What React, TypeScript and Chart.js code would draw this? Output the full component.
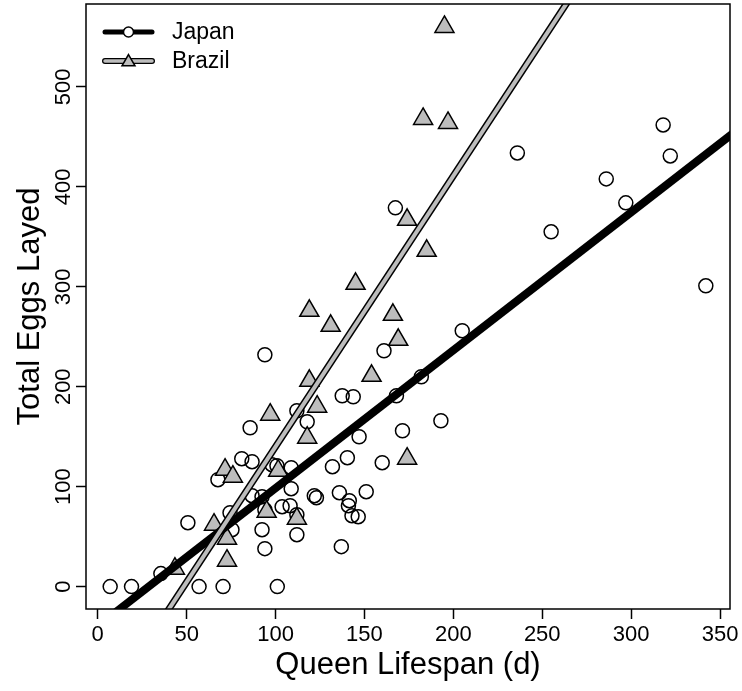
import { useEffect, useRef } from "react";
import { Chart, registerables } from "chart.js";

Chart.register(...registerables);

// ---- Data ----
const seriesNames = ["Japan", "Brazil"];

const japanLifespan = [
  7, 19, 57, 70.5, 101, 35.5, 50.7, 94, 85.7, 81, 86.8, 67.6, 98, 100.8, 108.8,
  86.8, 92.4, 108.8, 121.8, 123, 74.4, 94, 103.7, 108.2, 112, 75.5, 92.4, 112, 94,
  112, 117.8, 137.5, 143.7, 168, 171.4, 147, 140.4, 132, 160, 135.9, 151, 141.5,
  141, 143, 146.5, 137, 161, 205, 182, 193, 167.4, 236, 255, 286, 297, 318, 322, 342,
];
const japanEggs = [
  0, 0, 0, 0, 0, 13, 64, 232, 159, 128, 125, 107, 122, 121, 119,
  91, 90, 98, 91, 89, 74, 77, 80, 81, 72, 57, 57, 52, 38,
  176, 165, 191, 190, 191, 156, 150, 129, 120, 124, 94, 95, 86,
  81, 71, 70, 40, 236, 256, 210, 166, 379, 434, 355, 408, 384, 462, 431, 301,
];

const brazilLifespan = [
  195, 183, 197, 174, 185, 145, 119, 131, 166, 169, 154, 119, 123.4, 97, 117.8,
  174, 71.6, 76, 101.5, 95, 112, 65.4, 72.7, 72.7, 43.4,
];
const brazilEggs = [
  560, 468, 464, 367, 336, 303, 276, 261, 272, 247, 211, 206, 180, 172, 149,
  128, 117, 110, 116, 75, 68, 62, 48, 26, 18,
];

// regression lines: [intercept, slope]
const japanFit = [-39.5, 1.38];
const brazilFit = [-131, 2.71];

const xTicks = [0, 50, 100, 150, 200, 250, 300, 350];
const yTicks = [0, 100, 200, 300, 400, 500];
const xRange = [-6.6, 355.6];
const yRange = [-22.4, 583];

const FONT = "'Liberation Sans', Arial, Helvetica, sans-serif";
const GRAY = "#bdbdbd";

function fitLine(fit: number[]) {
  const xs = [xRange[0] - 20, xRange[1] + 20];
  return xs.map((x) => ({ x, y: fit[0] + fit[1] * x }));
}

const boxLegendPlugin = {
  id: "boxLegend",
  afterDraw(chart: any) {
    const { ctx, chartArea: a } = chart;
    ctx.save();
    ctx.strokeStyle = "#000";
    ctx.lineWidth = 1.5;
    ctx.strokeRect(a.left, a.top, a.right - a.left, a.bottom - a.top);

    // legend
    const lx0 = a.left + 19;
    const lx1 = a.left + 66;
    const mx = (lx0 + lx1) / 2;
    const y1 = a.top + 28;
    const y2 = a.top + 57;
    ctx.lineCap = "round";
    // Japan
    ctx.strokeStyle = "#000";
    ctx.lineWidth = 5;
    ctx.beginPath();
    ctx.moveTo(lx0, y1);
    ctx.lineTo(lx1, y1);
    ctx.stroke();
    ctx.lineWidth = 1.5;
    ctx.fillStyle = "#fff";
    ctx.beginPath();
    ctx.arc(mx, y1, 5, 0, Math.PI * 2);
    ctx.fill();
    ctx.stroke();
    // Brazil
    ctx.lineWidth = 6;
    ctx.strokeStyle = "#000";
    ctx.beginPath();
    ctx.moveTo(lx0, y2);
    ctx.lineTo(lx1, y2);
    ctx.stroke();
    ctx.lineWidth = 3.5;
    ctx.strokeStyle = GRAY;
    ctx.beginPath();
    ctx.moveTo(lx0, y2);
    ctx.lineTo(lx1, y2);
    ctx.stroke();
    const r = 7.5;
    ctx.fillStyle = GRAY;
    ctx.strokeStyle = "#000";
    ctx.lineWidth = 1.5;
    ctx.lineJoin = "miter";
    ctx.beginPath();
    for (let k = 0; k < 3; k++) {
      const ang = -Math.PI / 2 + (k * 2 * Math.PI) / 3;
      const px = mx + Math.cos(ang) * r;
      const py = y2 + 1 + Math.sin(ang) * r;
      if (k === 0) ctx.moveTo(px, py);
      else ctx.lineTo(px, py);
    }
    ctx.closePath();
    ctx.fill();
    ctx.stroke();

    ctx.fillStyle = "#000";
    ctx.font = `23px ${FONT}`;
    ctx.textBaseline = "middle";
    ctx.textAlign = "left";
    ctx.fillText(seriesNames[0], a.left + 86, y1 + 1);
    ctx.fillText(seriesNames[1], a.left + 86, y2 + 1);
    ctx.restore();
  },
};

export default function App() {
  const canvasRef = useRef<HTMLCanvasElement | null>(null);

  useEffect(() => {
    document.body.style.margin = "0";
    const canvas = canvasRef.current;
    if (!canvas) return;

    const japanPts = japanLifespan.map((x, i) => ({ x, y: japanEggs[i] }));
    const brazilPts = brazilLifespan.map((x, i) => ({ x, y: brazilEggs[i] }));

    const chart = new Chart(canvas, {
      type: "scatter",
      data: {
        datasets: [
          {
            type: "line",
            label: "Brazil fit inner",
            data: fitLine(brazilFit),
            borderColor: GRAY,
            borderWidth: 4,
            pointRadius: 0,
            order: 0,
            clip: 0,
          } as any,
          {
            type: "line",
            label: "Brazil fit outer",
            data: fitLine(brazilFit),
            borderColor: "#000",
            borderWidth: 7,
            pointRadius: 0,
            order: 1,
            clip: 0,
          } as any,
          {
            type: "line",
            label: "Japan fit",
            data: fitLine(japanFit),
            borderColor: "#000",
            borderWidth: 8,
            pointRadius: 0,
            order: 2,
            clip: 0,
          } as any,
          {
            label: seriesNames[1],
            data: brazilPts,
            pointStyle: "triangle",
            pointRadius: 11,
            backgroundColor: GRAY,
            borderColor: "#000",
            borderWidth: 1.5,
            order: 3,
            clip: 0,
          } as any,
          {
            label: seriesNames[0],
            data: japanPts,
            pointStyle: "circle",
            pointRadius: 7,
            backgroundColor: "rgba(0,0,0,0)",
            borderColor: "#000",
            borderWidth: 1.5,
            order: 4,
            clip: 0,
          } as any,
        ],
      },
      options: {
        animation: false,
        responsive: true,
        maintainAspectRatio: false,
        events: [],
        layout: { autoPadding: false, padding: { top: 4, right: 12, bottom: 0, left: 0 } },
        plugins: {
          legend: { display: false },
          tooltip: { enabled: false },
        },
        scales: {
          x: {
            type: "linear",
            min: xRange[0],
            max: xRange[1],
            afterBuildTicks: (s: any) => {
              s.ticks = xTicks.map((v) => ({ value: v }));
            },
            afterFit: (s: any) => {
              s.height = 82;
              s.paddingLeft = 0;
              s.paddingRight = 0;
            },
            border: { display: false },
            grid: {
              display: true,
              drawOnChartArea: false,
              drawTicks: true,
              tickLength: 10,
              tickWidth: 1.5,
              tickColor: "#000",
            },
            ticks: {
              autoSkip: false,
              maxRotation: 0,
              minRotation: 0,
              padding: 3,
              color: "#000",
              font: { family: FONT, size: 22 },
            },
            title: {
              display: true,
              text: "Queen Lifespan (d)",
              color: "#000",
              font: { family: FONT, size: 31 },
              padding: { top: 0, bottom: 7 },
            },
          },
          y: {
            type: "linear",
            min: yRange[0],
            max: yRange[1],
            afterBuildTicks: (s: any) => {
              s.ticks = yTicks.map((v) => ({ value: v }));
            },
            afterFit: (s: any) => {
              s.width = 86;
              s.paddingTop = 0;
              s.paddingBottom = 0;
            },
            border: { display: false },
            grid: {
              display: true,
              drawOnChartArea: false,
              drawTicks: true,
              tickLength: 10,
              tickWidth: 1.5,
              tickColor: "#000",
            },
            ticks: {
              autoSkip: false,
              minRotation: 90,
              maxRotation: 90,
              crossAlign: "center",
              padding: -6,
              color: "#000",
              font: { family: FONT, size: 22 },
            },
            title: {
              display: true,
              text: "Total Eggs Layed",
              color: "#000",
              font: { family: FONT, size: 31 },
              padding: { top: 12, bottom: 0 },
            },
          },
        },
      },
      plugins: [boxLegendPlugin],
    } as any);

    return () => {
      chart.destroy();
    };
  }, []);

  return (
    <div style={{ position: "relative", width: "742px", height: "691px" }}>
      <canvas ref={canvasRef} />
    </div>
  );
}
